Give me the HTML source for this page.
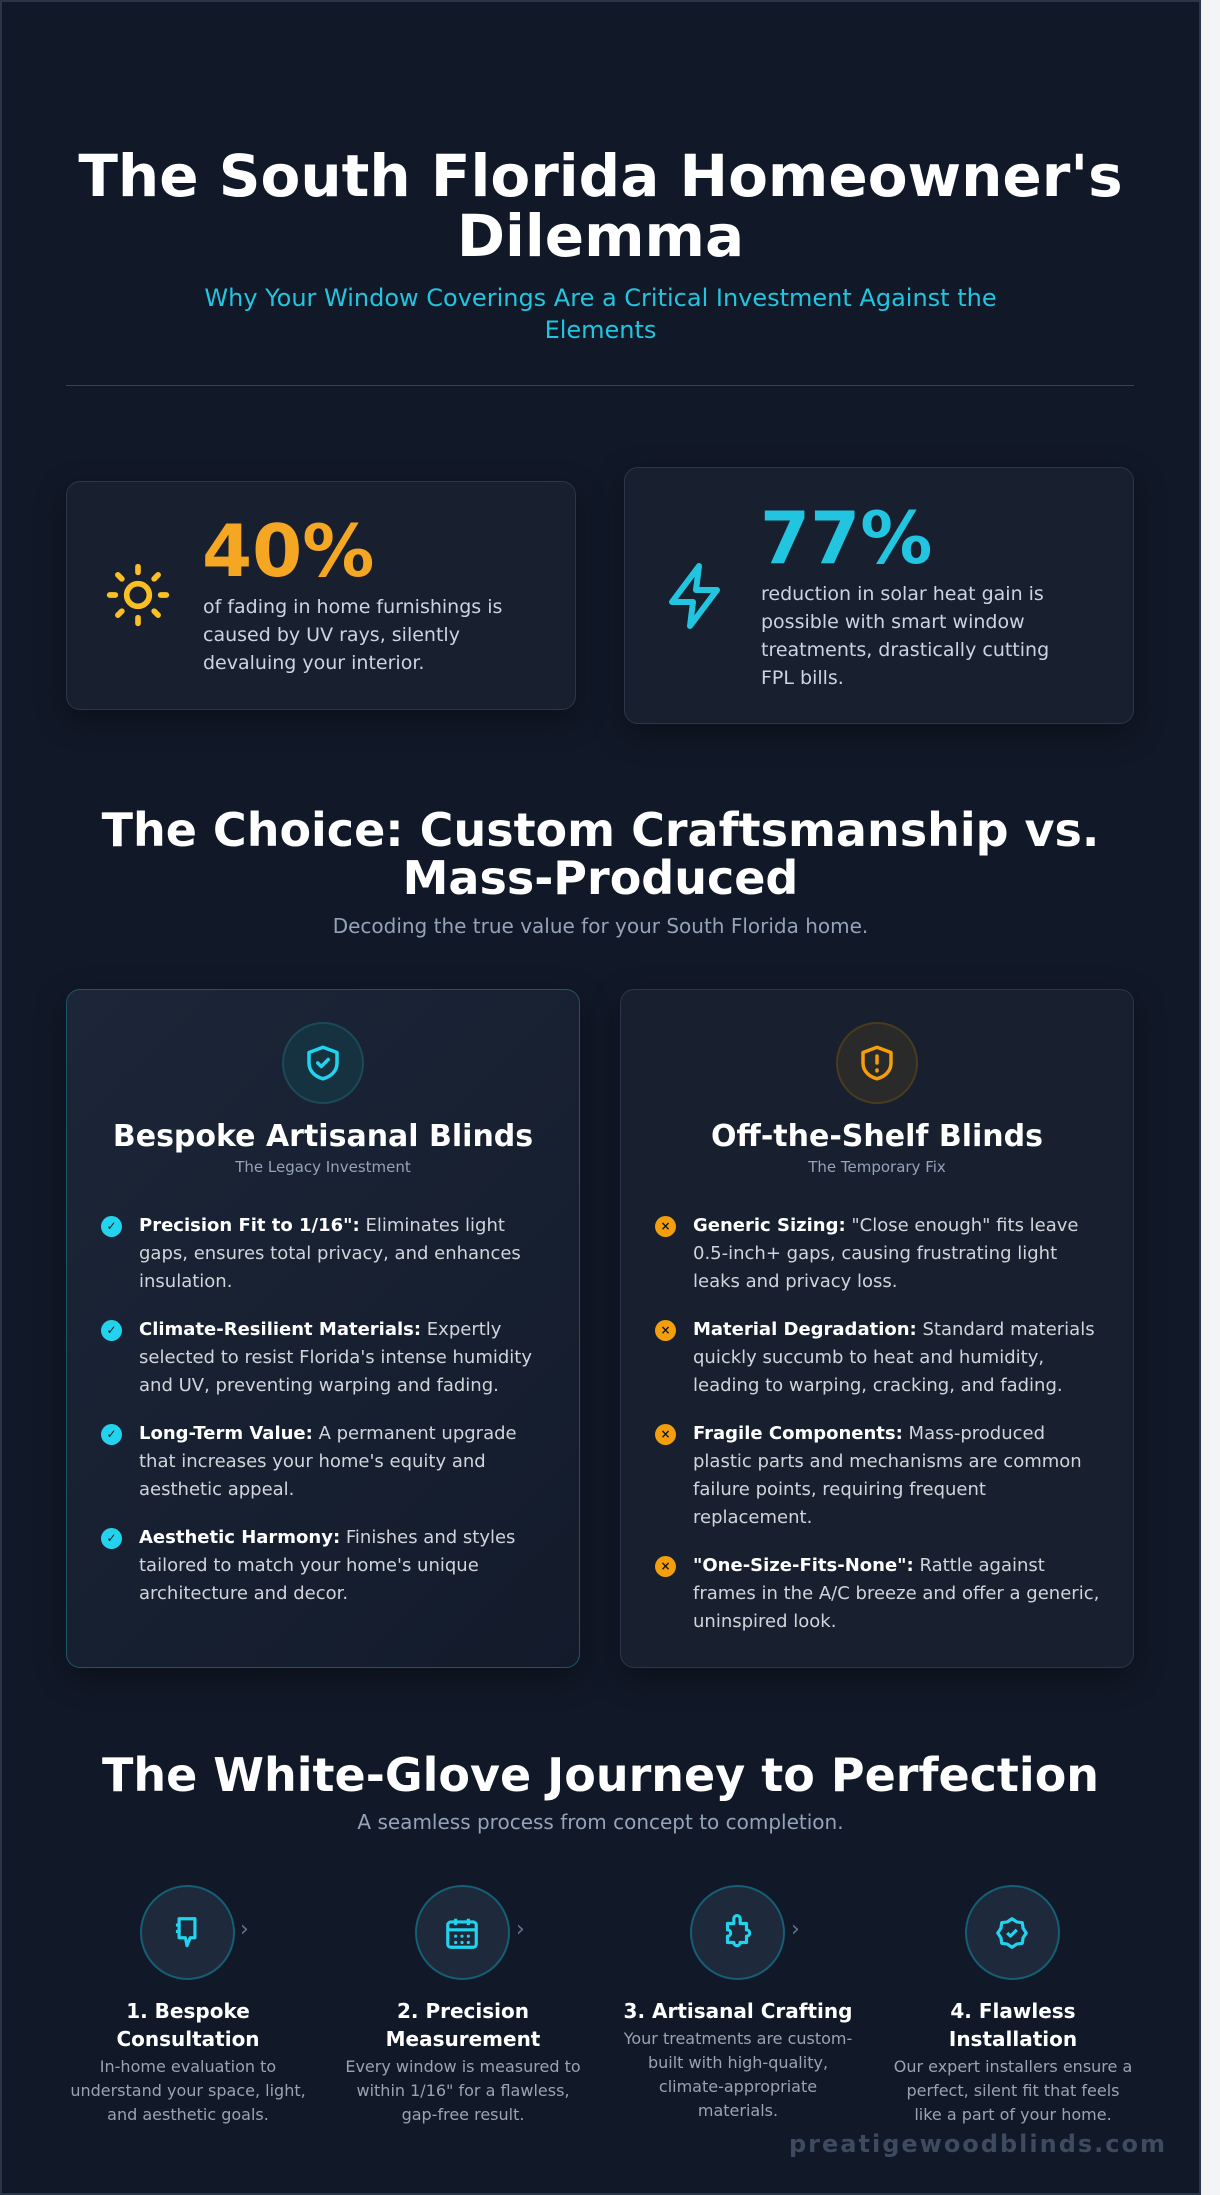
<!DOCTYPE html>
<html><head><meta charset="utf-8"><style>
*{margin:0;padding:0;box-sizing:border-box}
body{width:1220px;height:2195px;background:#f3f4f6;font-family:"DejaVu Sans","Liberation Sans",sans-serif;overflow:hidden;position:relative}
#pg{position:absolute;left:0;top:0;width:1201px;height:2195px;background:#111827}
#bd{position:absolute;left:0;top:0;width:1201px;height:2195px;border:2px solid #2a3548;pointer-events:none}
.a{position:absolute}
.c{text-align:center}
h1{position:absolute;left:0;width:1201px;text-align:center;color:#fff;font-weight:bold}
.card{position:absolute;background:#182030;border:1px solid #2b3648;border-radius:14px;box-shadow:0 10px 30px rgba(0,0,0,.35)}
.li{position:absolute;font-size:18px;line-height:28px;color:#d1d5db;width:400px}
.li b{color:#fff}
.bul{position:absolute;width:21px;height:21px;border-radius:50%;left:-38px;top:4px;color:#111827;font-size:12px;font-weight:bold;text-align:center;line-height:21px}
.st{position:absolute;width:240px;text-align:center}
.st .t{color:#fff;font-weight:bold;font-size:20px;line-height:28px}
.st .d{color:#9ca3af;font-size:16px;line-height:24px;margin-top:2px}
.circ{position:absolute;width:95px;height:95px;border-radius:50%;background:#1e293b;border:2px solid #155e75}
.arr{position:absolute;color:#64748b;font-size:22px}
</style></head><body><div id="pg">
<h1 style="top:146px;font-size:58px;line-height:60px">The South Florida Homeowner's<br>Dilemma</h1>
<div class="a c" style="left:0;width:1201px;top:282px;font-size:24px;line-height:32px;color:#22c5e0">Why Your Window Coverings Are a Critical Investment Against the<br>Elements</div>
<div class="a" style="left:66px;top:385px;width:1068px;height:1px;background:#334155"></div>

<div class="card" style="left:66px;top:481px;width:510px;height:229px"></div>
<svg class="a" style="left:104px;top:561px" width="68" height="68" viewBox="0 0 24 24" fill="none" stroke="#fbbf24" stroke-width="2" stroke-linecap="round"><circle cx="12" cy="12" r="4"/><path d="M12 2v2M12 20v2M4.9 4.9l1.4 1.4M17.7 17.7l1.4 1.4M2 12h2M20 12h2M4.9 19.1l1.4-1.4M17.7 6.3l1.4-1.4"/></svg>
<div class="a" style="left:202px;top:506px;font-size:72px;font-weight:bold;color:#f5a623;line-height:90px">40%</div>
<div class="a" style="left:203px;top:593px;font-size:19px;line-height:28px;color:#cbd5e1;width:350px">of fading in home furnishings is caused by UV rays, silently devaluing your interior.</div>

<div class="card" style="left:624px;top:467px;width:510px;height:257px"></div>
<svg class="a" style="left:660px;top:560px" width="72" height="72" viewBox="0 0 24 24" fill="none" stroke="#22c5e0" stroke-width="2" stroke-linejoin="round"><path d="M13 2L4 14h7l-1 8 9-12h-7z"/></svg>
<div class="a" style="left:760px;top:493px;font-size:72px;font-weight:bold;color:#22c5e0;line-height:90px">77%</div>
<div class="a" style="left:761px;top:580px;font-size:19px;line-height:28px;color:#cbd5e1;width:315px">reduction in solar heat gain is possible with smart window treatments, drastically cutting FPL bills.</div>

<h1 style="top:806px;font-size:46px;line-height:48px">The Choice: Custom Craftsmanship vs.<br>Mass-Produced</h1>
<div class="a c" style="left:0;width:1201px;top:914px;font-size:20px;color:#94a3b8">Decoding the true value for your South Florida home.</div>

<div class="card" style="left:66px;top:989px;width:514px;height:679px;border-color:#1f5566;background:linear-gradient(135deg,#1c2638,#131b2b)"></div>
<div class="card" style="left:620px;top:989px;width:514px;height:679px"></div>
<div class="circ" style="left:282px;top:1022px;width:82px;height:82px;background:#163241;border-color:#1b4a5a"></div>
<svg class="a" style="left:302px;top:1042px" width="42" height="42" viewBox="0 0 24 24" fill="none" stroke="#22d3ee" stroke-width="2" stroke-linejoin="round" stroke-linecap="round"><path d="M12 3l8 3v6c0 5-4 8-8 9-4-1-8-4-8-9V6z"/><path d="M9 12l2 2 4-4"/></svg>
<div class="circ" style="left:836px;top:1022px;width:82px;height:82px;background:#2a2a2a;border-color:#4a3a1e"></div>
<svg class="a" style="left:856px;top:1042px" width="42" height="42" viewBox="0 0 24 24" fill="none" stroke="#f59e0b" stroke-width="2" stroke-linejoin="round" stroke-linecap="round"><path d="M12 3l8 3v6c0 5-4 8-8 9-4-1-8-4-8-9V6z"/><path d="M12 8v4M12 16v.5"/></svg>
<div class="a c" style="left:66px;width:514px;top:1119px;font-size:30px;font-weight:bold;color:#fff">Bespoke Artisanal Blinds</div>
<div class="a c" style="left:66px;width:514px;top:1158px;font-size:15px;color:#94a3b8">The Legacy Investment</div>
<div class="a c" style="left:620px;width:514px;top:1119px;font-size:30px;font-weight:bold;color:#fff">Off-the-Shelf Blinds</div>
<div class="a c" style="left:620px;width:514px;top:1158px;font-size:15px;color:#94a3b8">The Temporary Fix</div>

<div class="li" style="left:139px;top:1212px"><span class="bul" style="background:#22d3ee">✓</span><b>Precision Fit to 1/16":</b> Eliminates light gaps, ensures total privacy, and enhances insulation.</div>
<div class="li" style="left:139px;top:1316px"><span class="bul" style="background:#22d3ee">✓</span><b>Climate-Resilient Materials:</b> Expertly selected to resist Florida's intense humidity and UV, preventing warping and fading.</div>
<div class="li" style="left:139px;top:1420px"><span class="bul" style="background:#22d3ee">✓</span><b>Long-Term Value:</b> A permanent upgrade that increases your home's equity and aesthetic appeal.</div>
<div class="li" style="left:139px;top:1524px"><span class="bul" style="background:#22d3ee">✓</span><b>Aesthetic Harmony:</b> Finishes and styles tailored to match your home's unique architecture and decor.</div>

<div class="li" style="left:693px;top:1212px;width:415px"><span class="bul" style="background:#f59e0b">×</span><b>Generic Sizing:</b> "Close enough" fits leave 0.5-inch+ gaps, causing frustrating light leaks and privacy loss.</div>
<div class="li" style="left:693px;top:1316px;width:415px"><span class="bul" style="background:#f59e0b">×</span><b>Material Degradation:</b> Standard materials quickly succumb to heat and humidity, leading to warping, cracking, and fading.</div>
<div class="li" style="left:693px;top:1420px;width:415px"><span class="bul" style="background:#f59e0b">×</span><b>Fragile Components:</b> Mass-produced plastic parts and mechanisms are common failure points, requiring frequent replacement.</div>
<div class="li" style="left:693px;top:1552px;width:415px"><span class="bul" style="background:#f59e0b">×</span><b>"One-Size-Fits-None":</b> Rattle against frames in the A/C breeze and offer a generic, uninspired look.</div>

<h1 style="top:1747px;font-size:46px;line-height:56px">The White-Glove Journey to Perfection</h1>
<div class="a c" style="left:0;width:1201px;top:1810px;font-size:20px;color:#94a3b8">A seamless process from concept to completion.</div>

<div class="circ" style="left:140px;top:1885px"></div>
<div class="circ" style="left:415px;top:1885px"></div>
<div class="circ" style="left:690px;top:1885px"></div>
<div class="circ" style="left:965px;top:1885px"></div>
<div class="arr" style="left:240px;top:1917px">›</div>
<div class="arr" style="left:516px;top:1917px">›</div>
<div class="arr" style="left:791px;top:1917px">›</div>
<svg class="a" style="left:168px;top:1914px" width="38" height="38" viewBox="0 0 24 24" fill="none" stroke="#22d3ee" stroke-width="2" stroke-linejoin="round"><path d="M7 3h10v12h-3l-2 5-1-5H7z"/><path d="M5 7h3M5 11h3"/></svg>
<svg class="a" style="left:443px;top:1914px" width="38" height="38" viewBox="0 0 24 24" fill="none" stroke="#22d3ee" stroke-width="2"><rect x="3" y="5" width="18" height="16" rx="2"/><path d="M3 10h18M8 3v4M16 3v4"/><path d="M8 14h0M12 14h0M16 14h0M8 18h0M12 18h0M16 18h0" stroke-linecap="round"/></svg>
<svg class="a" style="left:718px;top:1914px" width="38" height="38" viewBox="0 0 24 24" fill="none" stroke="#22d3ee" stroke-width="2" stroke-linejoin="round"><path d="M10 3a2 2 0 014 0v3h4v4a2 2 0 010 4v4h-4a2 2 0 01-4 0H6v-4a2 2 0 000-4V6h4z"/></svg>
<svg class="a" style="left:993px;top:1914px" width="38" height="38" viewBox="0 0 24 24" fill="none" stroke="#22d3ee" stroke-width="2" stroke-linejoin="round"><path d="M12 3l3 2 3.5.5.5 3.5 2 3-2 3-.5 3.5-3.5.5-3 2-3-2-3.5-.5L5 15l-2-3 2-3 .5-3.5L9 5z"/><path d="M9 12l2 2 4-4"/></svg>

<div class="st" style="left:68px;top:1997px"><div class="t">1. Bespoke<br>Consultation</div><div class="d">In-home evaluation to understand your space, light, and aesthetic goals.</div></div>
<div class="st" style="left:343px;top:1997px"><div class="t">2. Precision<br>Measurement</div><div class="d">Every window is measured to within 1/16" for a flawless, gap-free result.</div></div>
<div class="st" style="left:613px;top:1997px;width:250px"><div class="t">3. Artisanal Crafting</div><div class="d" style="padding:0 10px">Your treatments are custom-built with high-quality, climate-appropriate materials.</div></div>
<div class="st" style="left:893px;top:1997px"><div class="t">4. Flawless<br>Installation</div><div class="d">Our expert installers ensure a perfect, silent fit that feels like a part of your home.</div></div>

<div class="a" style="right:34px;top:2130px;font-size:24px;font-weight:bold;letter-spacing:2px;color:#3d4a60">preatigewoodblinds.com</div>
<div id="bd"></div>
</div></body></html>
